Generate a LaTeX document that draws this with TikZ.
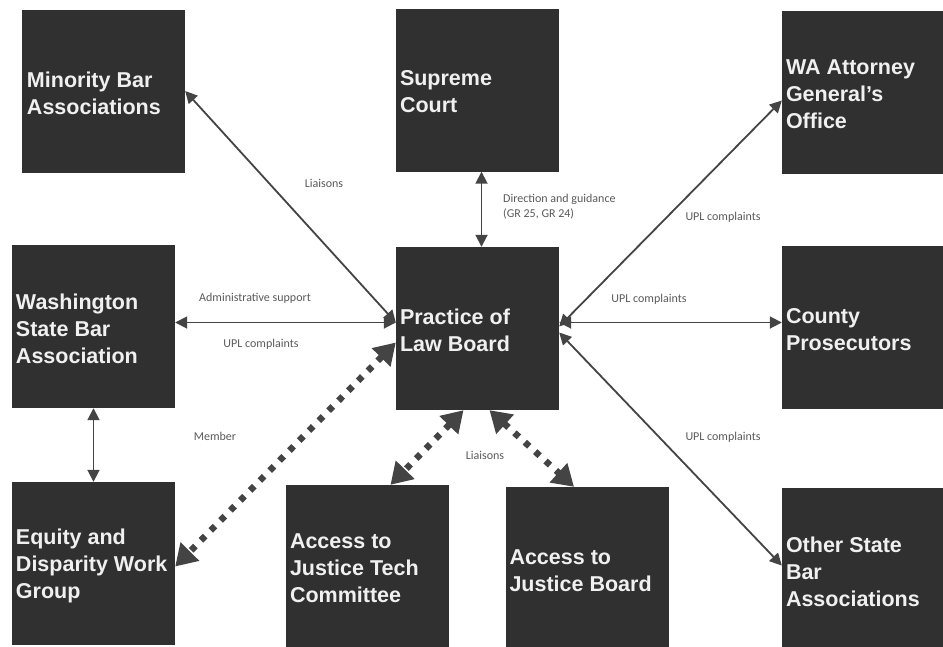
\documentclass[tikz,border=0pt]{standalone}
\usepackage{fontspec}
\setmainfont{Liberation Sans}
\newfontfamily\lblfont{Carlito}
\usetikzlibrary{arrows.meta}
\definecolor{boxfill}{HTML}{303030}
\definecolor{linecol}{HTML}{444444}
\definecolor{lblcol}{HTML}{5A5A5A}
\tikzset{
  orgbox/.style={rectangle, fill=boxfill, draw=none, text=white!94!black,
    font=\bfseries\fontsize{21.5}{27}\selectfont, align=left,
    text width=155pt, inner xsep=4pt, inner ysep=0pt, minimum height=163pt},
  boxtext/.style={text=white!94!black, font=\bfseries\fontsize{21.5}{27}\selectfont,
    align=left, inner sep=0pt},
  thinarrow/.style={draw=linecol, line width=1.8pt,
    {Triangle[length=12pt,width=12pt]}-{Triangle[length=12pt,width=12pt]}},
  dotarrow/.style={draw=linecol, line width=6.5pt, dash pattern=on 6pt off 8pt,
    {Triangle[length=21pt,width=25pt]}-{Triangle[length=21pt,width=25pt]}},
  lbl/.style={font=\lblfont\fontsize{12}{15}\selectfont, text=lblcol, inner sep=0pt}
}
\begin{document}
\begin{tikzpicture}[x=1pt,y=-1pt]
\useasboundingbox (0,0) rectangle (943,646);
\fill[white] (0,0) rectangle (943,646);

\node[orgbox] (mba)  at (103.5, 91)   {};
\node[orgbox] (sc)   at (477.5, 90)   {};
\node[orgbox] (ag)   at (863.5, 92.5) {};
\node[orgbox] (wsba) at (93.5, 326.5) {};
\node[orgbox] (plb)  at (477.5, 328.5){};
\node[orgbox] (cp)   at (863.5, 327.5){};
\node[orgbox] (edw)  at (93.5, 563.5) {};
\node[orgbox] (ajt)  at (367.5, 566.5){};
\node[orgbox] (ajb)  at (587, 568.5)  {};
\node[orgbox] (osb)  at (863.5, 569.5){};

\node[boxtext, anchor=west] (tmba)  at ([xshift=5pt,yshift=-2pt]mba.west)  {Minority Bar\\Associations};
\node[boxtext, anchor=west] (tsc)   at ([xshift=4pt,yshift=-2pt]sc.west)   {Supreme\\Court};
\node[boxtext, anchor=west] (tag)   at ([xshift=4pt,yshift=-2pt]ag.west)   {WA Attorney\\General's\\Office};
\node[boxtext, anchor=west] (twsba) at ([xshift=4pt,yshift=-2pt]wsba.west) {Washington\\State Bar\\Association};
\node[boxtext, anchor=west] (tplb)  at ([xshift=4pt,yshift=-2pt]plb.west)  {Practice of\\Law Board};
\node[boxtext, anchor=west] (tcp)   at ([xshift=4pt,yshift=-2pt]cp.west)   {County\\Prosecutors};
\node[boxtext, anchor=west] (tedw)  at ([xshift=4pt,yshift=-2pt]edw.west)  {Equity and\\Disparity Work\\Group};
\node[boxtext, anchor=west] (tajt)  at ([xshift=4pt,yshift=-2pt]ajt.west)  {Access to\\Justice Tech\\Committee};
\node[boxtext, anchor=west] (tajb)  at ([xshift=4pt,yshift=-2pt]ajb.west)  {Access to\\Justice Board};
\node[boxtext, anchor=west] (tosb)  at ([xshift=4pt,yshift=-2pt]osb.west)  {Other State\\Bar\\Associations};

% connector end points on the board
\coordinate (pw) at ([yshift=6pt]plb.west);
\coordinate (pe) at ([yshift=6pt]plb.east);

% thin arrows
\draw[thinarrow] (mba.east) -- (pw);
\draw[thinarrow] ([xshift=4pt]sc.south) -- ([xshift=4pt]plb.north);
\draw[thinarrow] (pw) -- (pw -| wsba.east);
\draw[thinarrow] (pe) -- (pe -| cp.west);
\draw[thinarrow] ([yshift=2pt]plb.east) -- ([yshift=-8pt]ag.west);
\draw[thinarrow] ([yshift=-4pt]plb.east) -- ([yshift=4pt]osb.west);
\draw[thinarrow] (wsba.south) -- (edw.north);

% dotted arrows
\draw[dotarrow] ([yshift=-14pt]plb.west) -- ([yshift=-3pt]edw.east);
\draw[dotarrow] ([xshift=-14pt]plb.south) -- ([xshift=23pt]ajt.north);
\draw[dotarrow] ([xshift=12pt]plb.south) -- ([xshift=-13pt]ajb.north);

% labels
\node[lbl] (l1) at (324,183) {Liaisons};
\node[lbl, anchor=west, align=left] (l2) at (503,207) {Direction and guidance\\(GR 25, GR 24)};
\node[lbl] (l3) at (255,298) {Administrative support};
\node[lbl] (l4) at (261,344) {UPL complaints};
\node[lbl] (l5) at (649,299) {UPL complaints};
\node[lbl] (l6) at (723,217) {UPL complaints};
\node[lbl] (l7) at (723,437) {UPL complaints};
\node[lbl] (l8) at (215,436) {Member};
\node[lbl] (l9) at (485,455) {Liaisons};
\end{tikzpicture}
\end{document}
